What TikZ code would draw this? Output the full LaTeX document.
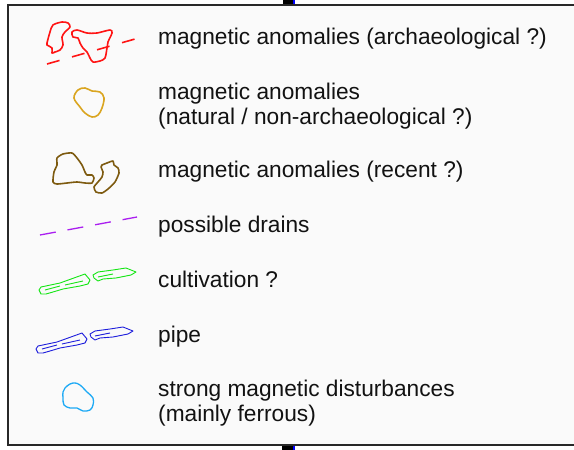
\documentclass[tikz,border=0pt]{standalone}
\usepackage{fontspec}
\setmainfont{Liberation Sans}
\usetikzlibrary{positioning}
\definecolor{archc}{RGB}{255,20,20}
\definecolor{natc}{RGB}{218,165,32}
\definecolor{recc}{RGB}{125,90,15}
\definecolor{drnc}{RGB}{170,30,240}
\definecolor{cultc}{RGB}{20,230,20}
\definecolor{pipec}{RGB}{30,30,220}
\definecolor{ferc}{RGB}{30,170,245}
\definecolor{framec}{RGB}{40,40,40}
% one pair of long strips (cultivation / pipe)
\newcommand{\strippair}{%
  (36,349) -- (38,346) -- (57,342) -- (82,333) -- (87,339) -- (85,343) -- (77,345) -- (60,348) -- (50,351) -- (43,353) -- (38,353) -- cycle
  (42,349) -- (57,345) (62,344) -- (80,340)
  (90,334) -- (95,331) -- (110,329) -- (123,327) -- (133,331) -- (128,334) -- (113,337) -- (100,338) -- (95,340) -- (91,337) -- cycle
  (95,336) -- (110,333)}

\begin{document}
\begin{tikzpicture}[x=1pt,y=-1pt,font=\fontsize{22.7}{25.5}\selectfont,
  lab/.style={anchor=base west,align=left,inner sep=0pt,text=black!93},
  blob/.style={line width=1.6pt,line join=round},
  strip/.style={line width=0.9pt,line join=round}]
\useasboundingbox (0,0) rectangle (574,450);
\fill[white] (0,0) rectangle (574,450);

% ---------- frame ----------
\draw[framec,line width=1.8pt,fill=black!2] (590,5) -- (8,5) -- (8,445) -- (590,445);
\fill[black] (283,0) rectangle (293,4);
\fill[blue] (293,0) rectangle (295,4);
\fill[black] (282,446) rectangle (293,450);
\fill[blue] (293,446) rectangle (295,450);

% ---------- labels (base = last line) ----------
\node[lab] (anomArch) at (158,44) {magnetic anomalies (archaeological ?)};
\node[lab] (anomNat) at (158,124.5) {magnetic anomalies\\(natural / non-archaeological ?)};
\node[lab] (anomRec) at (158,177) {magnetic anomalies (recent ?)};
\node[lab] (drains) at (158,232) {possible drains};
\node[lab] (cultv) at (158,287) {cultivation ?};
\node[lab] (pipe) at (158,342) {pipe};
\node[lab] (ferrous) at (158,421.5) {strong magnetic disturbances\\(mainly ferrous)};

% ---------- symbols ----------
\draw[blob,archc] plot[smooth cycle,tension=0.5] coordinates {(47,43) (50,32) (53,25) (62,22) (68,23) (70,27) (65,32) (62,37) (63,45) (60,50) (55,52) (52,53) (52,48) (47,45)};
\draw[blob,archc] plot[smooth cycle,tension=0.5] coordinates {(72,32) (77,30) (87,33) (97,33) (110,30) (112,33) (108,42) (107,48) (105,58) (100,61) (93,62) (90,58) (87,52) (83,48) (80,43) (78,38) (73,37)};
\draw[archc,line width=1.6pt,dash pattern=on 13pt off 13pt] (47,64) -- (135,39);

\draw[blob,natc] plot[smooth cycle,tension=0.6] coordinates {(74,98) (78,90) (85,88) (92,91) (100,92) (104,98) (102,108) (98,115) (92,117) (85,113) (80,107)};

\draw[blob,recc] plot[smooth cycle,tension=0.4] coordinates {(57,158) (63,154) (72,153) (77,158) (82,165) (85,172) (87,175) (92,175) (94,178) (92,183) (85,183) (77,182) (67,183) (57,184) (53,182) (54,172) (57,165)};
\draw[blob,recc] plot[smooth cycle,tension=0.4] coordinates {(102,165) (107,163) (113,161) (114,165) (118,168) (119,173) (115,182) (108,189) (102,193) (96,192) (94,187) (98,182) (102,177) (103,172) (101,167)};

\draw[drnc,line width=1.3pt,dash pattern=on 16pt off 12pt] (40,235) -- (137,217);

\begin{scope}[shift={(3,-59)}]
\draw[strip,cultc] \strippair;
\end{scope}
\draw[strip,pipec] \strippair;

\draw[ferc,line width=1.3pt,line join=round] plot[smooth cycle,tension=0.6] coordinates {(65,388) (70,384) (75,383) (80,385) (87,392) (93,398) (93,405) (90,410) (83,411) (77,408) (70,408) (64,405) (63,398) (63,392)};
\end{tikzpicture}
\end{document}
